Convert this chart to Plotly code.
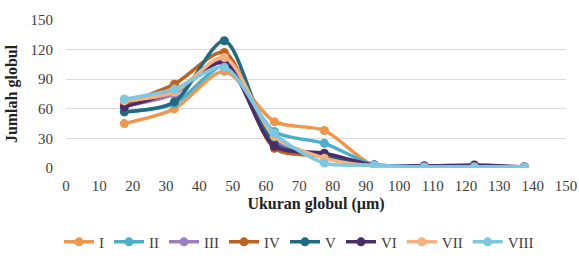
import plotly.graph_objects as go

x_vals = [17.5, 32.5, 47.5, 62.5, 77.5, 92.5, 107.5, 122.5, 137.5]
series_names = ["I", "II", "III", "IV", "V", "VI", "VII", "VIII"]
s_I = [45, 60, 98, 47, 38, 2, 1, 1, 1]
s_II = [57, 65, 103, 37, 25, 3, 1, 1, 1]
s_III = [63, 75, 110, 27, 13, 3, 2, 2, 1]
s_IV = [65, 85, 117, 20, 12, 2, 1, 1, 1]
s_V = [57, 67, 129, 25, 12, 3, 2, 1, 1]
s_VI = [62, 78, 107, 22, 15, 3, 2, 3, 1]
s_VII = [68, 77, 112, 32, 10, 2, 1, 1, 1]
s_VIII = [70, 80, 102, 35, 5, 3, 1, 1, 1]
series_values = [s_I, s_II, s_III, s_IV, s_V, s_VI, s_VII, s_VIII]
colors = ["#F0964A", "#4BAFCB", "#9B7DC4", "#C0621F", "#1F6A84", "#4A2E6A", "#F7B17E", "#7CC8E0"]

fig = go.Figure()
for name, vals, c in zip(series_names, series_values, colors):
    fig.add_trace(go.Scatter(
        x=x_vals, y=vals, name=name, mode="lines+markers",
        line=dict(color=c, width=3.5, shape="spline", smoothing=0.8),
        marker=dict(color=c, size=9),
    ))

serif = "Liberation Serif, Times New Roman, serif"
fig.update_layout(
    width=579, height=260,
    margin=dict(l=66, r=13, t=20, b=92, autoexpand=False),
    paper_bgcolor="white", plot_bgcolor="white",
    font=dict(family=serif, size=15, color="#404040"),
    xaxis=dict(range=[0, 150], dtick=10, showgrid=False, zeroline=False, automargin=False,
               showline=False, ticks="", ticklabelstandoff=7, tickfont=dict(size=15, color="#404040"),
               title=dict(text="<b>Ukuran globul (µm)</b>", font=dict(size=16, color="#222"), standoff=4)),
    yaxis=dict(range=[0, 150], dtick=30, showgrid=True, gridcolor="#D9D9D9", gridwidth=1,
               zeroline=False, showline=False, ticks="", automargin=False, ticklabelstandoff=12,
               tickfont=dict(size=15, color="#404040"),
               title=dict(text="<b>Jumlah globul</b>", font=dict(size=16, color="#222"), standoff=8)),
    legend=dict(orientation="h", x=0.466, xanchor="center", yref="container", y=0.069, yanchor="middle",
                font=dict(size=15, color="#404040"), itemwidth=30, tracegroupgap=0),
    showlegend=True,
)
fig.write_html("out.html", config={"displayModeBar": False},
               post_script="document.body.style.margin='0';document.body.style.overflow='hidden';")
